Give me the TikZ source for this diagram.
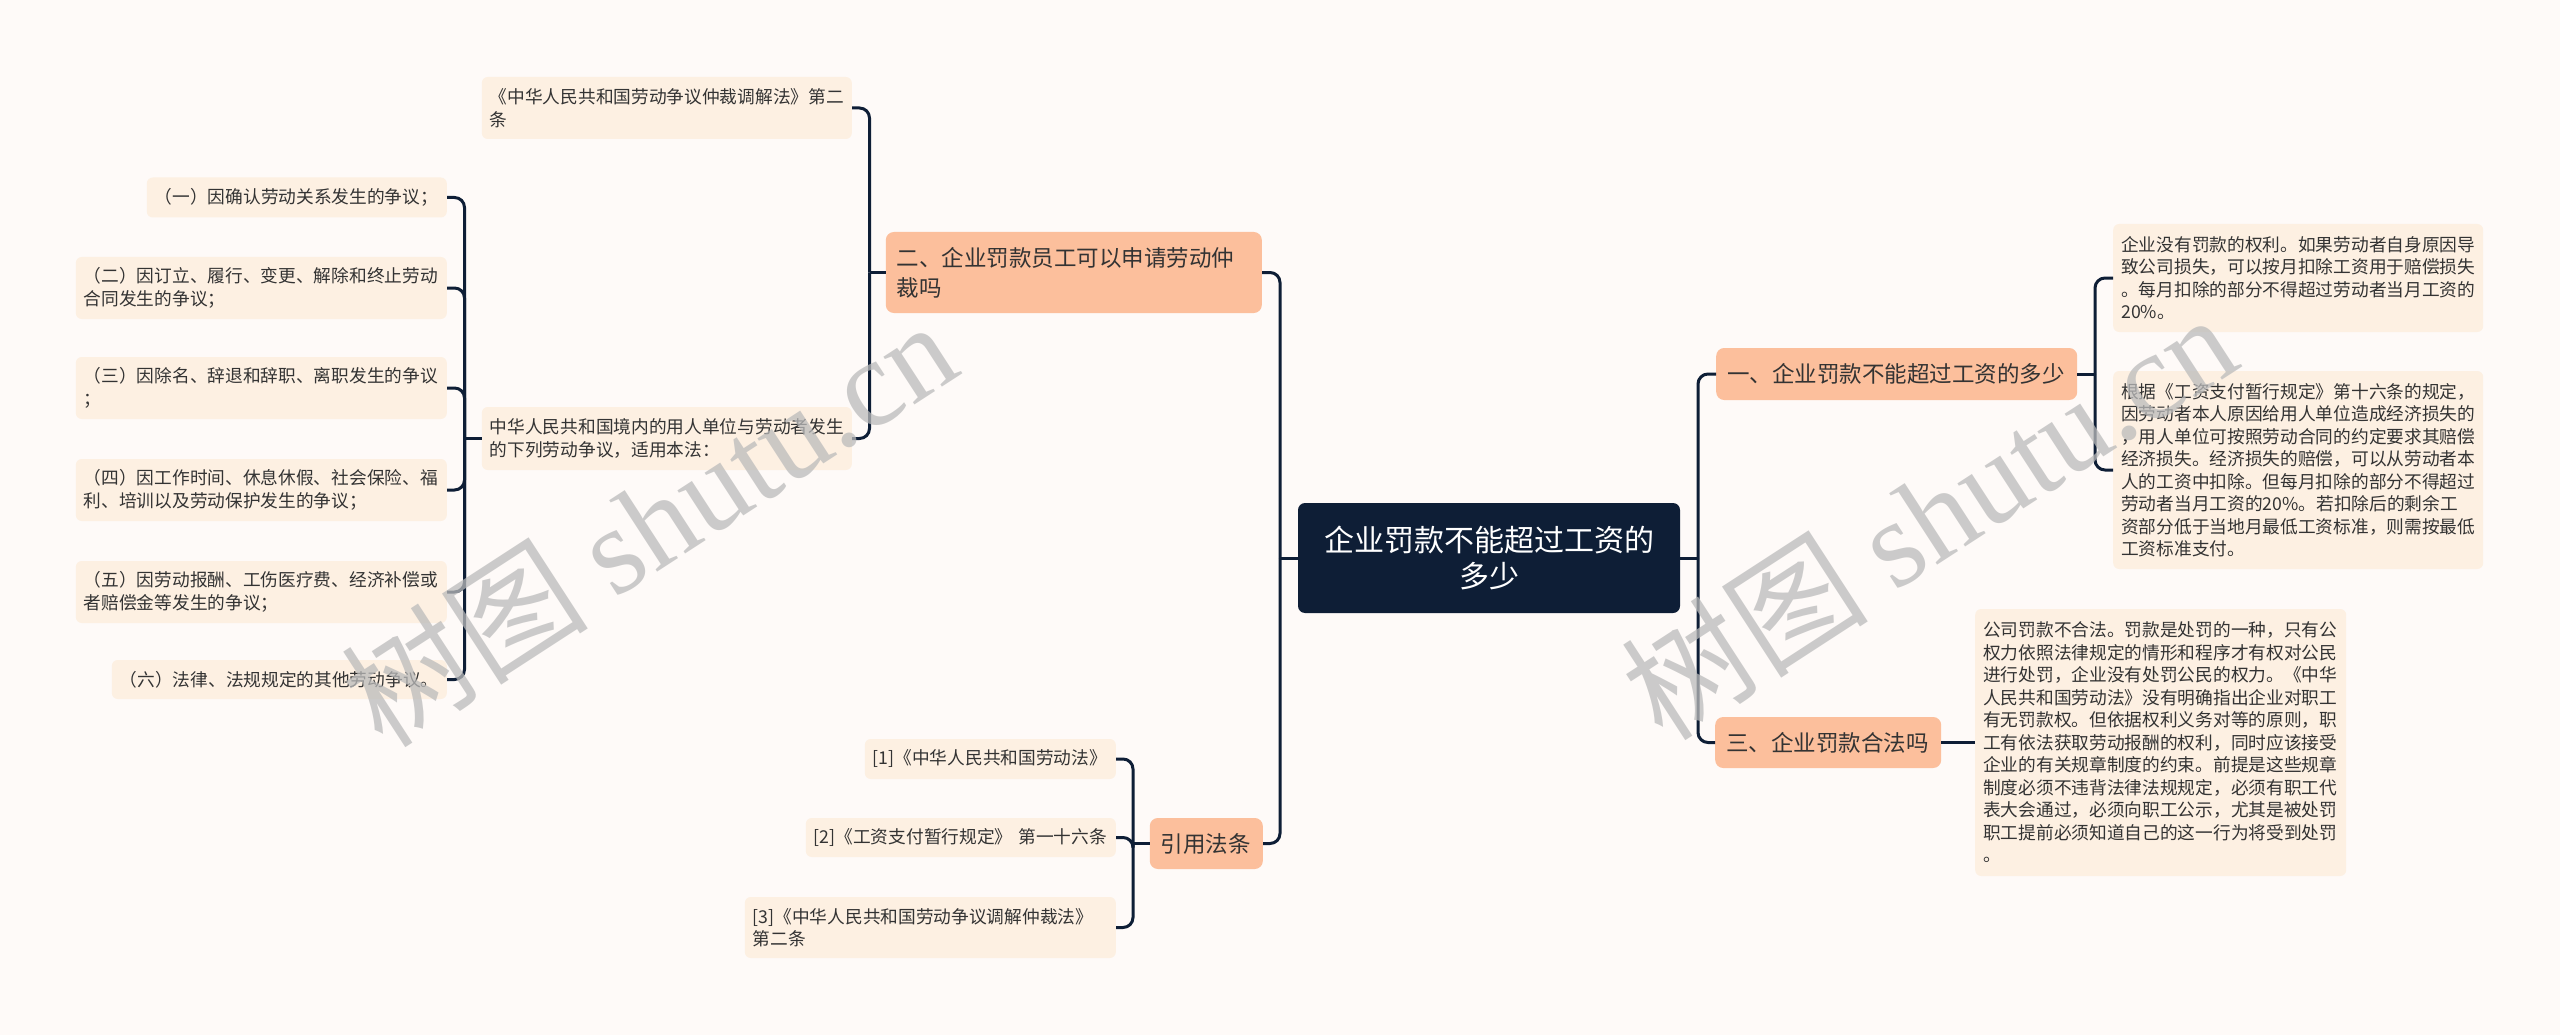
\documentclass[tikz,border=0pt]{standalone}
\usepackage{fontspec}
\setmainfont{Noto Sans CJK SC}
\newfontfamily\wmlatin{Liberation Serif}
\definecolor{bgc}{HTML}{FEFAF8}
\definecolor{leaffill}{HTML}{FDF0E2}
\definecolor{brfill}{HTML}{FCBF9C}
\definecolor{rootfill}{HTML}{0E1E36}
\definecolor{linec}{HTML}{0E1E36}
\definecolor{txt}{HTML}{333333}
\definecolor{wmc}{HTML}{BBBBBB}
\tikzset{
  leaf/.style={fill=leaffill, rounded corners=6pt, text=txt,
    font=\fontsize{17.7}{22.5}\selectfont, inner xsep=8pt, inner ysep=0pt, align=left},
  branch/.style={fill=brfill, rounded corners=8pt, text=txt,
    font=\fontsize{22.5}{30}\selectfont, inner xsep=11pt, inner ysep=0pt, align=left},
  rootbox/.style={fill=rootfill, rounded corners=7pt, text=white,
    font=\fontsize{30}{36}\selectfont, inner xsep=16pt, inner ysep=0pt, align=center},
  conn/.style={draw=linec, line width=3pt, rounded corners=10pt},
  wm/.style={text=wmc, opacity=0.75, font=\fontsize{124}{130}\selectfont, inner sep=0pt}
}
\begin{document}
\begin{tikzpicture}[x=1pt,y=-1pt]
\fill[bgc] (0,0) rectangle (2560,1035);
\useasboundingbox (0,0) rectangle (2560,1035);

% root
\node[rootbox, text width=350pt, minimum height=110pt] (root) at (1489,558) {企业罚款不能超过工资的\\多少};

% left branches
\node[branch, text width=354pt, minimum height=81pt, anchor=east] (b2) at (1262,272.5) {二、企业罚款员工可以申请劳动仲\\裁吗};
\node[branch, text width=91pt, minimum height=51pt, anchor=east] (bc) at (1263,843.5) {引用法条};

% right branches
\node[branch, text width=339pt, minimum height=52pt, anchor=west] (b1) at (1716,374) {一、企业罚款不能超过工资的多少};
\node[branch, text width=204pt, minimum height=51pt, anchor=west] (b3) at (1715,742.5) {三、企业罚款合法吗};

% leaves of b2
\node[leaf, text width=354pt, minimum height=62pt, anchor=east] (l21) at (852,108) {《中华人民共和国劳动争议仲裁调解法》第二\\条};
\node[leaf, text width=354pt, minimum height=63pt, anchor=east] (l22) at (852,438.5) {中华人民共和国境内的用人单位与劳动者发生\\的下列劳动争议，适用本法：};

% leaves of l22
\node[leaf, text width=284pt, minimum height=40pt, anchor=east] (c1) at (447,197.5) {（一）因确认劳动关系发生的争议；};
\node[leaf, text width=355pt, minimum height=62pt, anchor=east] (c2) at (447,288) {（二）因订立、履行、变更、解除和终止劳动\\合同发生的争议；};
\node[leaf, text width=355pt, minimum height=62pt, anchor=east] (c3) at (447,388) {（三）因除名、辞退和辞职、离职发生的争议\\；};
\node[leaf, text width=355pt, minimum height=62pt, anchor=east] (c4) at (447,490) {（四）因工作时间、休息休假、社会保险、福\\利、培训以及劳动保护发生的争议；};
\node[leaf, text width=355pt, minimum height=62pt, anchor=east] (c5) at (447,592) {（五）因劳动报酬、工伤医疗费、经济补偿或\\者赔偿金等发生的争议；};
\node[leaf, text width=319pt, minimum height=39pt, anchor=east] (c6) at (447,679.5) {（六）法律、法规规定的其他劳动争议。};

% leaves of citation branch
\node[leaf, text width=235pt, minimum height=40pt, anchor=east] (r1) at (1116,759) {[1]《中华人民共和国劳动法》};
\node[leaf, text width=294pt, minimum height=39pt, anchor=east] (r2) at (1116,837.5) {[2]《工资支付暂行规定》 第一十六条};
\node[leaf, text width=355pt, minimum height=61pt, anchor=east] (r3) at (1116,927.5) {[3]《中华人民共和国劳动争议调解仲裁法》\\第二条};

% leaves of b1
\node[leaf, text width=354pt, minimum height=108pt, anchor=west] (a1) at (2113,278) {企业没有罚款的权利。如果劳动者自身原因导\\致公司损失，可以按月扣除工资用于赔偿损失\\。每月扣除的部分不得超过劳动者当月工资的\\20\%。};
\node[leaf, text width=354pt, minimum height=198pt, anchor=west] (a2) at (2113,470) {根据《工资支付暂行规定》第十六条的规定，\\因劳动者本人原因给用人单位造成经济损失的\\，用人单位可按照劳动合同的约定要求其赔偿\\经济损失。经济损失的赔偿，可以从劳动者本\\人的工资中扣除。但每月扣除的部分不得超过\\劳动者当月工资的20\%。若扣除后的剩余工\\资部分低于当地月最低工资标准，则需按最低\\工资标准支付。};

% leaf of b3
\node[leaf, text width=355pt, minimum height=267pt, anchor=west] (d1) at (1975,742.5) {公司罚款不合法。罚款是处罚的一种，只有公\\权力依照法律规定的情形和程序才有权对公民\\进行处罚，企业没有处罚公民的权力。《中华\\人民共和国劳动法》没有明确指出企业对职工\\有无罚款权。但依据权利义务对等的原则，职\\工有依法获取劳动报酬的权利，同时应该接受\\企业的有关规章制度的约束。前提是这些规章\\制度必须不违背法律法规规定，必须有职工代\\表大会通过，必须向职工公示，尤其是被处罚\\职工提前必须知道自己的这一行为将受到处罚\\。};

% junctions
\coordinate (jRL) at (1280,558);
\coordinate (jRR) at (1698,558);
\coordinate (jB2) at (869.5,272.5);
\coordinate (jL22) at (464.5,438.5);
\coordinate (jBC) at (1133,843.5);
\coordinate (jB1) at (2095,374);

% connectors
\draw[conn] (root.west) -- (jRL);
\draw[conn] (jRL) |- (b2.east);
\draw[conn] (jRL) |- (bc.east);
\draw[conn] (root.east) -- (jRR);
\draw[conn] (jRR) |- (b1.west);
\draw[conn] (jRR) |- (b3.west);

\draw[conn] (b2.west) -- (jB2);
\draw[conn] (jB2) |- (l21.east);
\draw[conn] (jB2) |- (l22.east);

\draw[conn] (l22.west) -- (jL22);
\foreach \c in {c1,c2,c3,c4,c5,c6} { \draw[conn] (jL22) |- (\c.east); }

\draw[conn] (bc.west) -- (jBC);
\foreach \c in {r1,r2,r3} { \draw[conn] (jBC) |- (\c.east); }

\draw[conn] (b1.east) -- (jB1);
\draw[conn] (jB1) |- (a1.west);
\draw[conn] (jB1) |- (a2.west);

\draw[conn] (b3.east) -- (d1.west);

% watermarks
\node[wm, rotate=33] (wm1) at (648,522) {树图 {\wmlatin shutu.cn}};
\node[wm, rotate=33] (wm2) at (1928,515) {树图 {\wmlatin shutu.cn}};
\end{tikzpicture}
\end{document}
